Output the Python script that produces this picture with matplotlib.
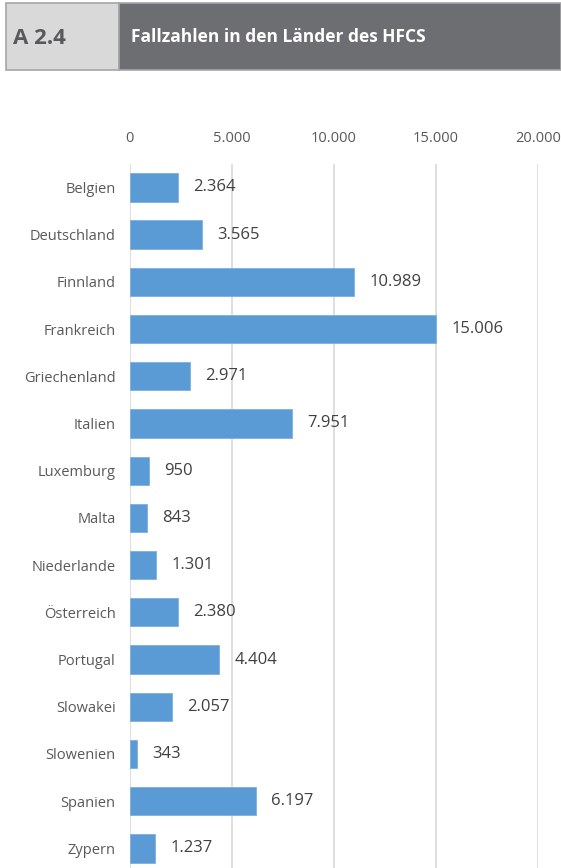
import matplotlib.pyplot as plt
from matplotlib.patches import Rectangle

# Fallzahlen je Land (HFCS)
laender = ["Belgien", "Deutschland", "Finnland", "Frankreich", "Griechenland",
           "Italien", "Luxemburg", "Malta", "Niederlande", "Österreich",
           "Portugal", "Slowakei", "Slowenien", "Spanien", "Zypern"]
fallzahlen = [2364, 3565, 10989, 15006, 2971, 7951, 950, 843, 1301, 2380,
              4404, 2057, 343, 6197, 1237]
ticks = [0, 5000, 10000, 15000, 20000]


def de_format(v):
    return f"{v:,}".replace(",", ".")


plt.rcParams['font.family'] = ['Open Sans', 'DejaVu Sans']

W, H = 561, 868
fig = plt.figure(figsize=(W / 100, H / 100), dpi=100)

# Kopfzeile
hdr = fig.add_axes([0, 0, 1, 1], zorder=0)
hdr.set_xlim(0, W)
hdr.set_ylim(H, 0)
hdr.axis("off")
hdr.add_patch(Rectangle((6, 3), 113, 67, facecolor="#D9D9D9",
                        edgecolor="#A6A6A6", linewidth=1.2))
hdr.add_patch(Rectangle((119, 3), W - 119, 67, facecolor="#6D6E71",
                        edgecolor="#A6A6A6", linewidth=1.2))
hdr.text(13, 38, "A 2.4", fontsize=16, fontweight="bold", color="#58595B",
         va="center", ha="left")
hdr.text(131, 37, "Fallzahlen in den Länder des HFCS", fontsize=12.5,
         fontweight="bold", color="white", va="center", ha="left")

# Balkendiagramm
ax = fig.add_axes([129.5 / W, -4 / H, (538 - 129.5) / W, (871.6 - 163.4) / H],
                  zorder=1)
ax.patch.set_alpha(0)
y = range(len(laender))
ax.barh(y, fallzahlen, height=0.6, color="#5B9BD5", edgecolor="#7FB0DE",
        linewidth=0.6, zorder=2)
for i, v in enumerate(fallzahlen):
    ax.text(v + 750, i, de_format(v), va="center", ha="left", fontsize=12,
            color="#404040")

ax.set_xlim(0, 20000)
ax.set_ylim(len(laender) - 0.5, -0.5)
ax.set_xticks(ticks)
ax.set_xticklabels([de_format(t) for t in ticks], fontsize=10.5, color="#595959")
ax.xaxis.tick_top()
ax.tick_params(axis="x", length=0, pad=13)
ax.set_yticks(list(y))
ax.set_yticklabels(laender, fontsize=10.5, color="#595959")
ax.tick_params(axis="y", length=0, pad=10)
ax.grid(axis="x", color="#D9D9D9", linewidth=1.2, zorder=0)
ax.set_axisbelow(True)
for s in ax.spines.values():
    s.set_visible(False)

fig.savefig("out.png", dpi=100)
